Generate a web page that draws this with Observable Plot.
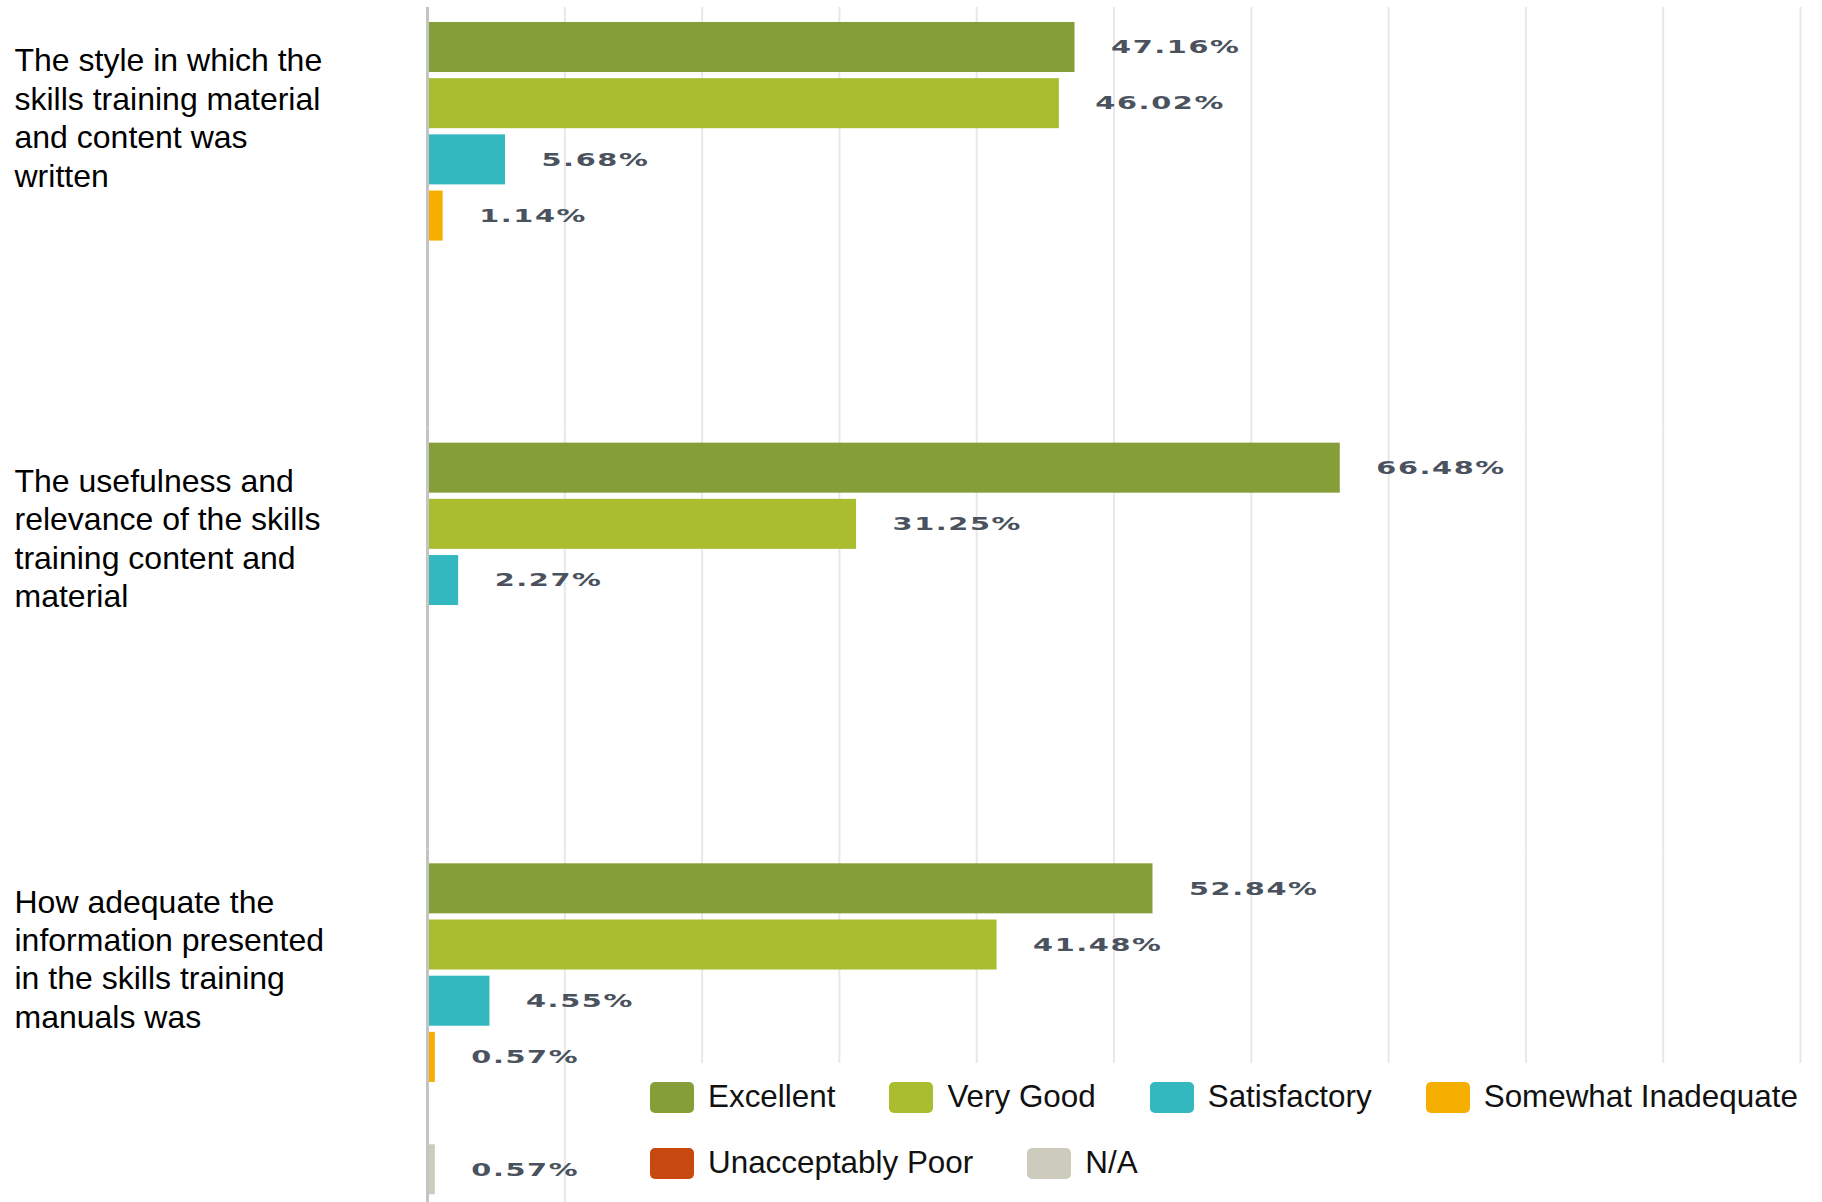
<!DOCTYPE html>
<html>
<head>
<meta charset="utf-8">
<script src="https://cdn.jsdelivr.net/npm/d3@7"></script>
<script src="https://cdn.jsdelivr.net/npm/@observablehq/plot@0.6"></script>
<style>
  html, body { margin: 0; padding: 0; background: #fff; overflow: hidden; }
  #wrap { position: relative; width: 1822px; height: 1202px; overflow: hidden; }
  #legend {
    position: absolute; left: 640px; top: 1063px; width: 1172px; height: 123px;
    background: #fff; padding: 16px 0 0 10px;
    display: flex; flex-wrap: wrap; column-gap: 54px; row-gap: 30px; align-content: flex-start;
    font-family: "Liberation Sans", Arial, sans-serif; font-size: 31.4px; color: #111;
  }
  .item { display: flex; align-items: center; gap: 14px; height: 36px; white-space: nowrap; }
  .sw { width: 44px; height: 31px; border-radius: 5px; }
</style>
</head>
<body>
<div id="wrap"><div id="chart"></div><div id="legend"></div></div>
<script>
// Questions (category axis), wrapped as in the original
const questions = [
  "The style in which the\nskills training material\nand content was\nwritten",
  "The usefulness and\nrelevance of the skills\ntraining content and\nmaterial",
  "How adequate the\ninformation presented\nin the skills training\nmanuals was"
];
// Response categories and their colours
const categories = ["Excellent", "Very Good", "Satisfactory", "Somewhat Inadequate", "Unacceptably Poor", "N/A"];
const colors = ["#869e37", "#a9bd2f", "#34b8bf", "#f6ae00", "#c8490f", "#cdcbbc"];
// Percent values per question (null = no bar shown)
const q1Values = [47.16, 46.02, 5.68, 1.14, null, null];
const q2Values = [66.48, 31.25, 2.27, null, null, null];
const q3Values = [52.84, 41.48, 4.55, 0.57, null, 0.57];
const xTicks = [10, 20, 30, 40, 50, 60, 70, 80, 90, 100];

const seriesValues = [q1Values, q2Values, q3Values];
const rows = [];
questions.forEach((q, qi) => {
  categories.forEach((c, ci) => {
    const v = seriesValues[qi][ci];
    if (v != null) rows.push({question: q, category: c, value: v});
  });
});

const chart = Plot.plot({
  width: 1822,
  height: 1202,
  marginLeft: 427,
  marginRight: 22,
  marginTop: 7,
  marginBottom: -67,
  style: {fontFamily: "Liberation Sans, Arial, sans-serif", background: "transparent"},
  x: {domain: [0, 100], axis: null},
  y: {domain: categories, paddingInner: 0.11, paddingOuter: 0.798, align: 0.167, round: false, axis: null},
  fy: {domain: questions, padding: 0, round: false, axis: null},
  color: {domain: categories, range: colors},
  marks: [
    Plot.ruleX(xTicks, {x: d => d, stroke: "#e8e8e8", strokeWidth: 2}),
    Plot.barX(rows, {x: "value", y: "category", fy: "question", fill: "category"}),
    Plot.ruleX([0], {stroke: "#c4c4c4", strokeWidth: 3}),
    Plot.text(rows, {
      x: "value", y: "category", fy: "question",
      text: d => d.value.toFixed(2) + "%",
      dx: 36, textAnchor: "start",
      fontFamily: "DejaVu Sans", fontWeight: "bold", fontSize: 18, fill: "#4a525e"
    }),
    Plot.text(questions, {
      fy: d => d, y: () => "Very Good", text: d => d,
      frameAnchor: "left", dx: -413, dy: 13, textAnchor: "start",
      fontSize: 32, lineHeight: 1.2, fill: "#000"
    })
  ]
});
document.getElementById("chart").appendChild(chart);

// widen the value labels horizontally like the original
chart.querySelectorAll("text").forEach(t => {
  if (!/%$/.test(t.textContent)) return;
  t.style.letterSpacing = "1px";
  const tr = t.getAttribute("transform");
  if (tr) {
    t.setAttribute("transform", tr + " scale(1.6,1)");
  } else {
    const x = +(t.getAttribute("x") || 0), y = +(t.getAttribute("y") || 0);
    t.removeAttribute("x"); t.removeAttribute("y");
    t.setAttribute("transform", `translate(${x},${y}) scale(1.6,1)`);
  }
});

// Legend
const legend = document.getElementById("legend");
categories.forEach((c, i) => {
  const item = document.createElement("div");
  item.className = "item";
  const sw = document.createElement("div");
  sw.className = "sw";
  sw.style.background = colors[i];
  const lab = document.createElement("span");
  lab.textContent = c;
  item.appendChild(sw); item.appendChild(lab);
  legend.appendChild(item);
});
</script>
</body>
</html>
